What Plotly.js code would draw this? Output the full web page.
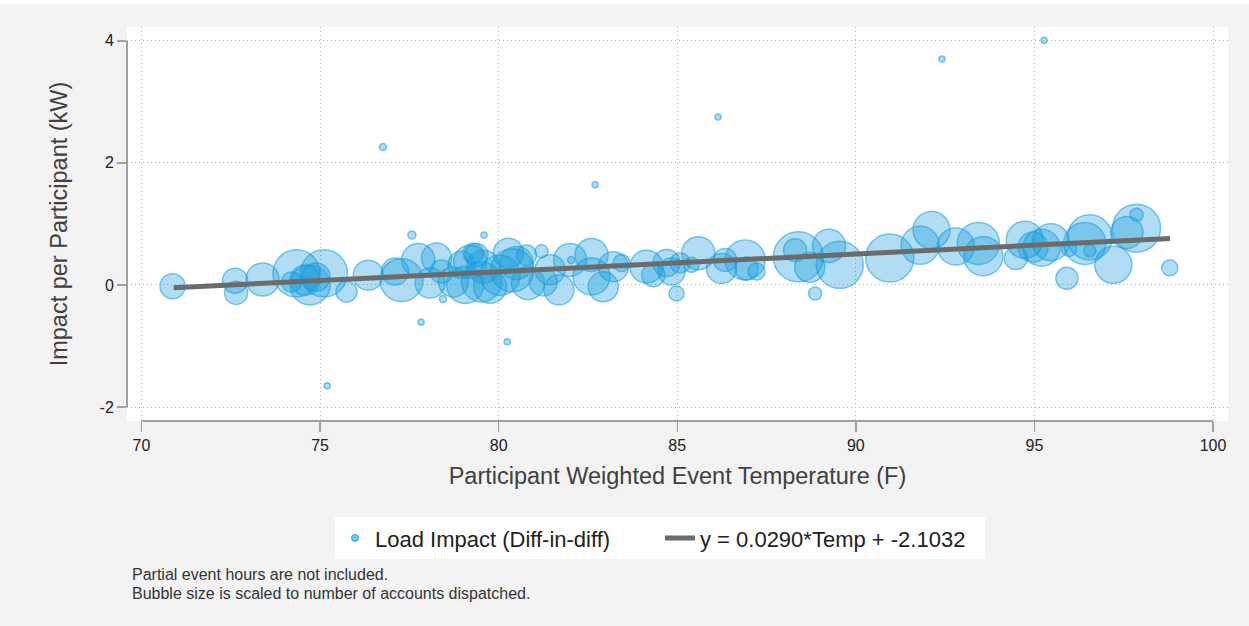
<!DOCTYPE html>
<html>
<head>
<meta charset="utf-8">
<script src="https://cdn.plot.ly/plotly-3.0.1.min.js"></script>
<style>
html,body{margin:0;padding:0;background:#ffffff;}
#chart{width:1249px;height:626px;}
</style>
</head>
<body>
<div id="chart"></div>
<script>
// Event temperature (F)
var temps = [
  70.87, 72.62, 72.65, 73.39, 74.34, 75.11, 74.72, 74.58, 74.20, 74.89,
  75.74, 76.35, 77.28, 77.10, 77.75, 78.26, 78.40, 78.73, 78.96, 79.29,
  79.52, 79.57, 79.38, 79.76, 80.27, 80.38, 80.50, 80.78, 81.20, 81.25,
  81.69, 82.00, 82.60, 82.60, 82.93, 83.21, 83.44, 84.14, 84.33, 84.70,
  84.84, 85.08, 84.98, 85.40, 85.59, 86.24, 86.34, 86.90, 86.94, 87.22,
  88.39, 88.30, 88.71, 88.86, 89.25, 89.55, 90.95, 91.80, 92.12, 92.80,
  93.43, 93.57, 94.48, 94.73, 94.96, 95.20, 95.46, 95.91, 95.97, 96.55,
  96.41, 96.55, 97.21, 97.86, 97.59, 97.86, 98.79,
  79.06, 80.04, 80.82, 81.44, 78.08, 79.20,
  76.76, 86.14, 82.70, 92.41, 95.27, 75.20, 80.24, 77.83, 77.57, 79.59,
  78.44, 82.03
];
// Impact per participant (kW)
var impacts = [
  -0.02, 0.07, -0.13, 0.09, 0.19, 0.19, 0.00, 0.08, 0.05, 0.13,
  -0.11, 0.16, 0.08, 0.22, 0.41, 0.44, 0.22, 0.05, 0.33, 0.52,
  0.05, 0.30, 0.49, -0.03, 0.52, 0.24, 0.36, 0.49, 0.55, 0.05,
  -0.08, 0.41, 0.49, 0.14, -0.03, 0.30, 0.36, 0.30, 0.16, 0.36,
  0.22, 0.36, -0.14, 0.33, 0.52, 0.27, 0.41, 0.41, 0.27, 0.22,
  0.46, 0.57, 0.29, -0.14, 0.64, 0.33, 0.44, 0.65, 0.90, 0.63,
  0.68, 0.47, 0.44, 0.74, 0.62, 0.61, 0.70, 0.11, 0.59, 0.78,
  0.68, 0.56, 0.33, 0.93, 0.86, 1.15, 0.28,
  0.00, 0.16, 0.03, 0.25, 0.03, 0.38,
  2.26, 2.75, 1.64, 3.70, 4.01, -1.65, -0.93, -0.61, 0.82, 0.82,
  -0.23, 0.41
];
// Number of accounts dispatched (bubble size)
var accounts = [
  313, 313, 265, 545, 1105, 1105, 800, 450, 200, 392,
  221, 450, 925, 365, 545, 450, 265, 450, 365, 200,
  800, 545, 265, 545, 450, 925, 545, 200, 85, 392,
  450, 545, 545, 685, 450, 450, 145, 545, 265, 365,
  365, 200, 113, 113, 545, 450, 265, 800, 265, 145,
  1250, 265, 450, 85, 545, 1105, 1152, 722, 685, 685,
  882, 761, 265, 685, 450, 685, 685, 242, 113, 1013,
  882, 72, 685, 1152, 512, 85, 128,
  685, 800, 545, 450, 450, 545,
  25, 18, 18, 18, 18, 18, 18, 18, 32, 18,
  25, 25
];
// Linear fit
var fitSlope = 0.0290;
var fitIntercept = -2.1032;
var fitTempRange = [70.9, 98.8];

var xTicks = [70, 75, 80, 85, 90, 95, 100];
var yTicks = [-2, 0, 2, 4];

var seriesName = 'Load Impact (Diff-in-diff)';
var fitName = 'y = ' + fitSlope.toFixed(4) + '*Temp + ' + fitIntercept.toFixed(4);
var xTitle = 'Participant Weighted Event Temperature (F)';
var yTitle = 'Impact per Participant (kW)';
var notes = ['Partial event hours are not included.', 'Bubble size is scaled to number of accounts dispatched.'];

var fitY = fitTempRange.map(function(t){ return fitSlope * t + fitIntercept; });

var blueFill = 'rgba(20,156,220,0.48)';
var blueLine = 'rgba(20,156,220,0.85)';
var FONT = 'Liberation Sans, Arial, sans-serif';

var traces = [
  {
    type: 'scatter', mode: 'markers', x: temps, y: impacts,
    showlegend: false, hoverinfo: 'x+y',
    marker: { size: accounts, sizemode: 'area', sizeref: 1, color: blueFill,
              line: { color: blueLine, width: 1.5 } }
  },
  {
    type: 'scatter', mode: 'markers', x: [null], y: [null], name: seriesName,
    showlegend: true,
    marker: { size: 7, color: 'rgba(20,156,220,0.6)', line: { color: blueLine, width: 1 } }
  },
  {
    type: 'scatter', mode: 'lines', x: fitTempRange, y: fitY, name: fitName,
    line: { color: '#6b6b6b', width: 5 }
  }
];

var axisColor = '#a0a0a0';
var layout = {
  width: 1249, height: 626,
  margin: { l: 127, r: 21, t: 27, b: 205 },
  paper_bgcolor: '#f3f3f3',
  plot_bgcolor: '#ffffff',
  font: { family: FONT, color: '#222222' },
  xaxis: {
    range: [69.594, 100.42], tickvals: xTicks, ticktext: xTicks.map(String),
    ticks: 'outside', ticklen: 10, tickwidth: 1.5, tickcolor: axisColor,
    showgrid: true, gridcolor: '#b4b4b4', griddash: '1px,3px', gridwidth: 1,
    zeroline: false, showline: false,
    tickfont: { size: 16, color: '#222222', family: FONT },
    title: { text: xTitle, font: { size: 23.5, color: '#404040', family: FONT }, standoff: 14 }
  },
  yaxis: {
    range: [-2.229, 4.226], tickvals: yTicks, ticktext: yTicks.map(String),
    ticks: 'outside', ticklen: 9, tickwidth: 1.5, tickcolor: axisColor,
    showgrid: true, gridcolor: '#b4b4b4', griddash: '1px,3px', gridwidth: 1,
    zeroline: false, showline: false,
    tickfont: { size: 16, color: '#222222', family: FONT },
    title: { text: yTitle, font: { size: 23.5, color: '#404040', family: FONT }, standoff: 25 }
  },
  shapes: [
    { type: 'line', xref: 'paper', yref: 'y', x0: 0, x1: 0, y0: -2, y1: 4,
      line: { color: axisColor, width: 2 } },
    { type: 'line', xref: 'x', yref: 'paper', x0: 70, x1: 100, y0: 0, y1: 0,
      line: { color: axisColor, width: 2 } },
    { type: 'rect', xref: 'paper', yref: 'paper', x0: -0.2, x1: 1.1,
      y0: 1 + 23 / 394, y1: 1 + 28 / 394, fillcolor: '#ffffff', line: { width: 0 }, layer: 'below' }
  ],
  legend: {
    orientation: 'h', x: 0.1889, xanchor: 'left', y: -0.244, yanchor: 'top',
    bgcolor: '#ffffff', borderwidth: 0,
    font: { size: 22, color: '#222222', family: FONT },
    entrywidth: 280, entrywidthmode: 'pixels', traceorder: 'normal'
  },
  annotations: [
    { xref: 'paper', yref: 'paper', x: 0.0036, y: -0.3896, xanchor: 'left', yanchor: 'middle',
      align: 'left', showarrow: false, text: notes[0], borderpad: 0,
      font: { size: 16, color: '#333333', family: FONT } },
    { xref: 'paper', yref: 'paper', x: 0.0036, y: -0.4378, xanchor: 'left', yanchor: 'middle',
      align: 'left', showarrow: false, text: notes[1], borderpad: 0,
      font: { size: 16, color: '#333333', family: FONT } }
  ]
};

Plotly.newPlot('chart', traces, layout, { displayModeBar: false, staticPlot: true });
</script>
</body>
</html>
